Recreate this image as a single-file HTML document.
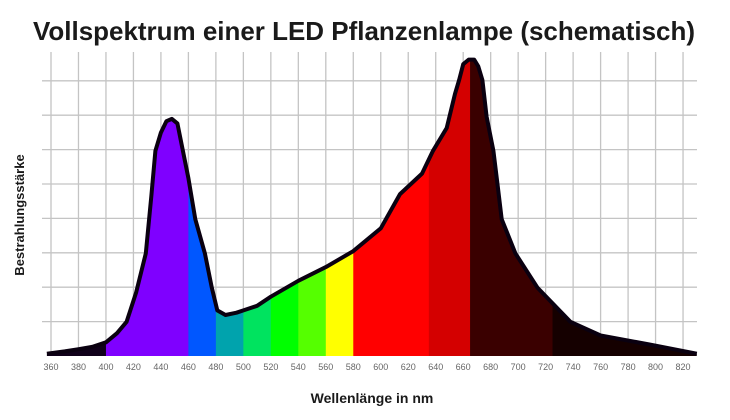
<!DOCTYPE html>
<html><head><meta charset="utf-8"><style>
body{margin:0;background:#fff;}
svg{display:block;font-family:"Liberation Sans",sans-serif;}
</style></head><body>
<svg width="730" height="420" viewBox="0 0 730 420">
<text x="364" y="40" text-anchor="middle" font-size="26" font-weight="bold" fill="#1a1a1a" textLength="662" lengthAdjust="spacingAndGlyphs">Vollspektrum einer LED Pflanzenlampe (schematisch)</text>
<g id="grid"></g>
<defs><clipPath id="clip"><path id="clipPath"/></clipPath></defs>
<g id="bands" clip-path="url(#clip)"></g>
<path id="outline" fill="none" stroke="#0a0010" stroke-width="4" stroke-linejoin="round"/>
<g id="xticks"></g>
<text x="24" y="215" transform="rotate(-90 24 215)" text-anchor="middle" font-size="13" font-weight="bold" fill="#1a1a1a">Bestrahlungsstärke</text>
<text x="372" y="403" text-anchor="middle" font-size="14" font-weight="bold" fill="#1a1a1a">Wellenlänge in nm</text>
</svg>
<script>
const wavelengths=[357,370,380,390,400,408,415,422,429,433,436,440,444,448,452,456,460,465,472,477,481,487,495,500,510,520,540,560,580,600,614,630,638,648,654,657,660,664,668,671,674,677,682,685,688,698,714,738,760,796,830];
const intensity=[1,2,3,4,6,10,15,28,45,70,90,98,103,104,102,90,78,60,45,30,20,18,19,20,22,26,33,39,46,56,71,80,90,100,115,121,128,130,130,127,121,105,90,75,60,45,30,15,9,5,1];
const ticks=[360,380,400,420,440,460,480,500,520,540,560,580,600,620,640,660,680,700,720,740,760,780,800,820];
const bandStarts=[340,400,460,480,500,520,540,560,580,635,665,725];
const bandColors=["#10001a","#7f00ff","#0057ff","#00a3ad","#00e35f","#00ff00","#55ff00","#ffff00","#ff0000","#d40000","#3a0000","#150000"];
const NS="http://www.w3.org/2000/svg";
const X0=51,PX=1.374,Y0=356,PY=2.28;
const xs=w=>X0+(w-360)*PX;
const ys=v=>Y0-v*PY;
const grid=document.getElementById('grid');
for(let w=360;w<=820;w+=20){const l=document.createElementNS(NS,'line');


l.setAttribute('x1',xs(w));l.setAttribute('x2',xs(w));l.setAttribute('y1',52);l.setAttribute('y2',356);l.setAttribute('stroke','#c4c4c4');l.setAttribute('stroke-width','1.3');grid.appendChild(l);}
for(let i=1;i<=8;i++){const y=Y0-i*34.4;const l=document.createElementNS(NS,'line');


l.setAttribute('x1',42);l.setAttribute('x2',697);l.setAttribute('y1',y);l.setAttribute('y2',y);l.setAttribute('stroke','#c4c4c4');l.setAttribute('stroke-width','1.3');grid.appendChild(l);}
let d='';wavelengths.forEach((w,i)=>{d+=(i?'L':'M')+xs(w).toFixed(1)+','+ys(intensity[i]).toFixed(1);});
document.getElementById('outline').setAttribute('d',d);
document.getElementById('clipPath').setAttribute('d',d+'L'+xs(830)+','+Y0+'L'+xs(357)+','+Y0+'Z');
const bands=document.getElementById('bands');
bandStarts.forEach((s,i)=>{const e=i<bandStarts.length-1?bandStarts[i+1]:840;const r=document.createElementNS(NS,'rect');


r.setAttribute('x',xs(s));r.setAttribute('width',(e-s)*PX+0.5);r.setAttribute('y',40);r.setAttribute('height',Y0-40);r.setAttribute('fill',bandColors[i]);bands.appendChild(r);});
const xt=document.getElementById('xticks');
ticks.forEach(t=>{const tx=document.createElementNS(NS,'text');


tx.setAttribute('x',xs(t));tx.setAttribute('y',370);tx.setAttribute('text-anchor','middle');tx.setAttribute('font-size','9');tx.setAttribute('fill','#666');tx.textContent=t;xt.appendChild(tx);});
</script>
</body></html>
